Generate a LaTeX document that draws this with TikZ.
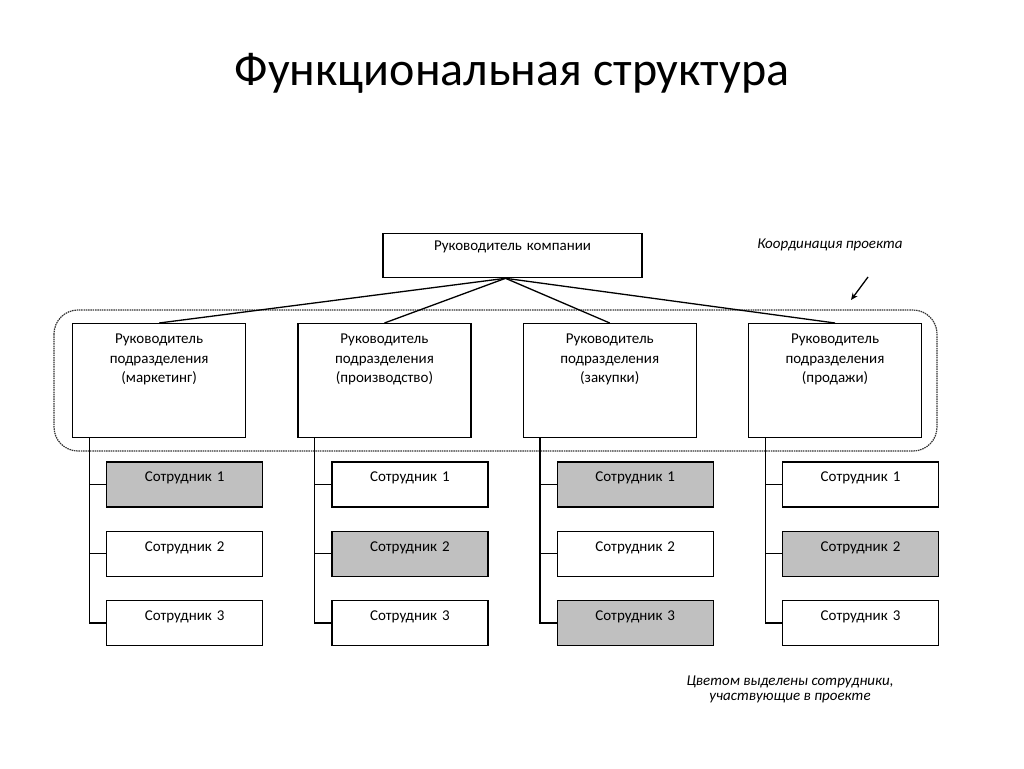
\documentclass[tikz,border=0pt]{standalone}
\usepackage{fontspec}
\setmainfont{Carlito}
\usetikzlibrary{positioning}
\usetikzlibrary{arrows.meta}

\definecolor{selgray}{RGB}{192,192,192}
\tikzset{
  box/.style={draw, line width=1.3pt, inner xsep=0pt, inner ysep=0pt, align=center,
    font=\fontsize{15}{19.5}\selectfont},
  chief/.style={box, text width=259pt, text height=17pt, text depth=27pt},
  head/.style={box, text width=173pt, text height=20pt, text depth=94pt},
  emp/.style={box, text width=156pt, text height=20pt, text depth=25pt},
  sel/.style={fill=selgray},
  link/.style={line width=1.3pt},
  frame/.style={draw=black!80, line width=1.2pt, dash pattern=on 1.5pt off 0.8pt, rounded corners=24pt},
  note/.style={font=\fontsize{15}{15}\selectfont\itshape, align=center},
}

\begin{document}
\begin{tikzpicture}[x=1pt, y=-1pt]
    \useasboundingbox (0,0) rectangle (1024,768);

    \node (title) at (512,73) {\fontsize{48}{54}\selectfont Функциональная структура};

    % project frame (drawn first, under the boxes)
    \draw [frame] (54,310) rectangle (937,451);

    \node [chief, anchor=north] (boss) at (512.5,233) {Руководитель компании};
    \path (boss.south) ++(-7,0) coordinate (apex);

    \node [head, anchor=north west] (mk) at (72,323) {Руководитель\\подразделения\\(маркетинг)};
    \node [head] (pr) [right=51pt of mk] {Руководитель\\подразделения\\(производство)};
    \node [head] (zk) [right=51pt of pr] {Руководитель\\подразделения\\(закупки)};
    \node [head] (pd) [right=51pt of zk] {Руководитель\\подразделения\\(продажи)};

    \draw [link] (apex) -- (mk.north);
    \draw [link] (apex) -- (pr.north);
    \draw [link] (apex) -- (zk.north);
    \draw [link] (apex) -- (pd.north);

    % staff of each department
    \node [emp, sel] (mk1) [below right=23pt and 34pt of mk.south west] {Сотрудник 1};
    \node [emp] (mk2) [below=23pt of mk1] {Сотрудник 2};
    \node [emp] (mk3) [below=23pt of mk2] {Сотрудник 3};

    \node [emp] (pr1) [below right=23pt and 34pt of pr.south west] {Сотрудник 1};
    \node [emp, sel] (pr2) [below=23pt of pr1] {Сотрудник 2};
    \node [emp] (pr3) [below=23pt of pr2] {Сотрудник 3};

    \node [emp, sel] (zk1) [below right=23pt and 34pt of zk.south west] {Сотрудник 1};
    \node [emp] (zk2) [below=23pt of zk1] {Сотрудник 2};
    \node [emp, sel] (zk3) [below=23pt of zk2] {Сотрудник 3};

    \node [emp] (pd1) [below right=23pt and 34pt of pd.south west] {Сотрудник 1};
    \node [emp, sel] (pd2) [below=23pt of pd1] {Сотрудник 2};
    \node [emp] (pd3) [below=23pt of pd2] {Сотрудник 3};

    \path (mk.south west) ++(17.5,0) coordinate (mkt);
    \path (pr.south west) ++(17.5,0) coordinate (prt);
    \path (zk.south west) ++(17.5,0) coordinate (zkt);
    \path (pd.south west) ++(17.5,0) coordinate (pdt);

    \draw [link] (mkt) |- (mk1.west) (mkt) |- (mk2.west) (mkt) |- (mk3.west);
    \draw [link] (prt) |- (pr1.west) (prt) |- (pr2.west) (prt) |- (pr3.west);
    \draw [link] (zkt) |- (zk1.west) (zkt) |- (zk2.west) (zkt) |- (zk3.west);
    \draw [link] (pdt) |- (pd1.west) (pdt) |- (pd2.west) (pdt) |- (pd3.west);

    \node [note] (coord) at (830,245) {Координация проекта};
    \coordinate (arrfrom) at (868,277);
    \coordinate (arrto) at (851,300);
    \draw [link, -{Stealth[length=7pt, width=6pt]}] (arrfrom) -- (arrto);

    \node [note] (legend) at (790,689) {Цветом выделены сотрудники,\\участвующие в проекте};
\end{tikzpicture}
\end{document}
